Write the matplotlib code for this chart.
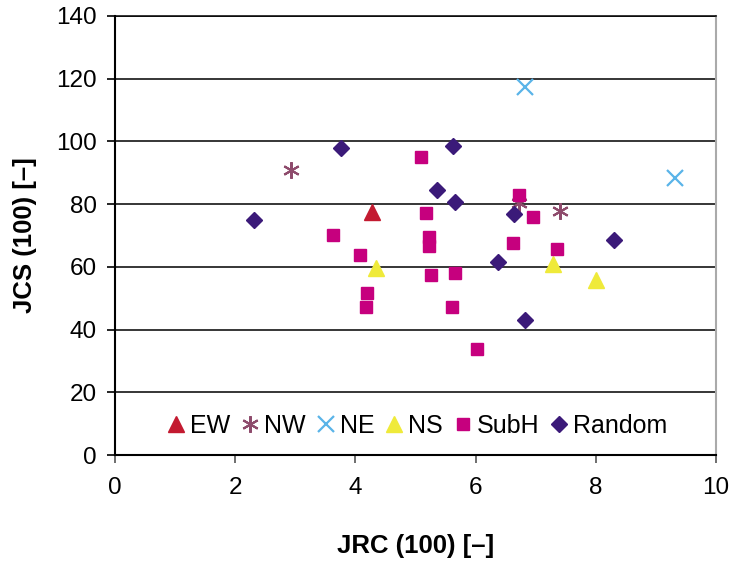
import matplotlib.pyplot as plt

plt.rcParams['font.family'] = ['Liberation Sans', 'DejaVu Sans']

ew_x = [4.28]
ew_y = [77.5]
nw_x = [2.93, 6.72, 7.40]
nw_y = [90.9, 80.4, 77.9]
ne_x = [6.82, 9.31]
ne_y = [117.5, 88.3]
ns_x = [4.35, 7.28, 8.01]
ns_y = [59.5, 60.9, 55.8]
subh_x = [5.09, 5.17, 5.23, 5.23, 3.63, 4.07, 4.20, 4.17, 5.26, 5.66, 5.60, 6.03, 6.73, 6.96, 6.63, 7.36]
subh_y = [95.1, 77.1, 69.6, 66.8, 70.2, 63.8, 51.6, 47.1, 57.3, 58.2, 47.1, 33.7, 82.9, 75.9, 67.6, 65.7]
rand_x = [2.32, 3.76, 5.62, 5.35, 5.65, 6.64, 8.31, 6.38, 6.82]
rand_y = [75.0, 97.8, 98.5, 84.5, 80.7, 76.9, 68.5, 61.6, 43.1]

fig = plt.figure(figsize=(7.37, 5.67), dpi=100)
ax = fig.add_axes([0.156, 0.1975, 0.8155, 0.7743])

ax.plot(ew_x, ew_y, '^', color='#C31A30', markersize=11, linestyle='none', label='EW')
ax.plot(nw_x, nw_y, marker=(6, 2, 0), color='#8E4B6C', markersize=12, markeredgewidth=1.5,
        linestyle='none', label='NW')
ax.plot(ne_x, ne_y, 'x', color='#5AB4E8', markersize=11, markeredgewidth=1.6, linestyle='none', label='NE')
ax.plot(ns_x, ns_y, '^', color='#EFEA3A', markersize=11, linestyle='none', label='NS')
ax.plot(subh_x, subh_y, 's', color='#C6007E', markersize=9, linestyle='none', label='SubH')
ax.plot(rand_x, rand_y, 'D', color='#3B1A79', markersize=8, linestyle='none', label='Random')

ax.set_xlim(0, 10)
ax.set_ylim(0, 140)
ax.set_xticks(range(0, 11, 2))
ax.set_yticks(range(0, 141, 20))
ax.yaxis.grid(True, color='black', linewidth=1.1)
ax.set_axisbelow(True)
ax.tick_params(labelsize=17.5, direction='out', length=6, width=1.2)
ax.tick_params(axis='y', pad=7)
ax.tick_params(axis='x', pad=10, color='#555555')
for s in ['left', 'bottom']:
    ax.spines[s].set_linewidth(1.5)
ax.spines['top'].set_linewidth(1.1)
ax.spines['right'].set_color('#AAAAAA')
ax.spines['right'].set_linewidth(1.5)

ax.set_xlabel('JRC (100) [–]', fontsize=18.5, fontweight='bold', labelpad=25)
ax.set_ylabel('JCS (100) [–]', fontsize=18.5, fontweight='bold', labelpad=14)

ax.legend(loc='lower center', bbox_to_anchor=(0.5, 0.0), ncol=6, frameon=False, fontsize=18,
          handletextpad=0.05, columnspacing=0.3, handlelength=1.0, borderaxespad=0.3)

fig.savefig('out.png', dpi=100)
